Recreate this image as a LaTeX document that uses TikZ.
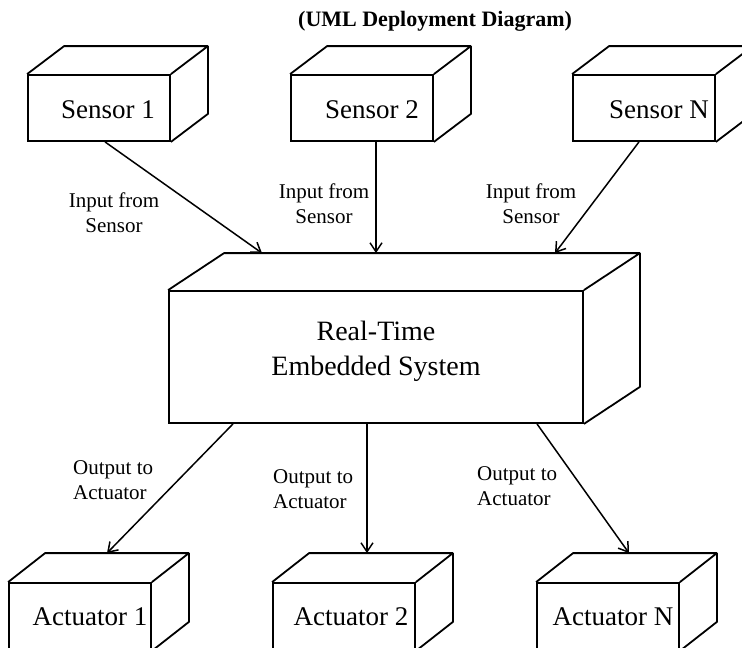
\documentclass[tikz,border=0pt]{standalone}
\usepackage{fontspec}
\setmainfont{Liberation Serif}
\usetikzlibrary{arrows.meta}

\tikzset{
  unit/.style={draw, line width=1.8pt, inner sep=0pt,
    minimum width=142pt, minimum height=66pt},
  boxtext/.style={font=\fontsize{27}{30}\selectfont},
  flow/.style={line width=1.5pt, -{Straight Barb[length=9pt,width=12pt]}},
  tag/.style={inner sep=0pt, font=\fontsize{21}{25}\selectfont},
  title/.style={inner sep=0pt, font=\fontsize{22}{25}\selectfont\bfseries},
}

% back edges of a deployment node: node, dx, dy
\newcommand{\depthlines}[3]{%
  \draw[line width=1.8pt, line join=round]
    (#1.north west) -- ++(#2,#3) -- ([shift={(#2,#3)}]#1.north east)
    -- ([shift={(#2,#3)}]#1.south east) -- (#1.south east)
    (#1.north east) -- ++(#2,#3);
  \coordinate (#1-top) at ([shift={(#2,#3)}]#1.north);
}

\begin{document}
\begin{tikzpicture}[x=1pt, y=-1pt]
  \useasboundingbox (0,0) rectangle (742,648);
  \clip (0,0) rectangle (742,648);

  \node[title, anchor=west] (title) at (298,21) {(UML Deployment Diagram)};

  % sensors
  \node[unit, label={[boxtext, xshift=9pt, yshift=-2pt]center:Sensor 1}] (s1) at (99,108) {};
  \node[unit, label={[boxtext, xshift=10pt, yshift=-2pt]center:Sensor 2}] (s2) at (362,108) {};
  \node[unit, label={[boxtext, xshift=15pt, yshift=-2pt]center:Sensor N}] (sN) at (644,108) {};
  \depthlines{s1}{37}{-28}
  \depthlines{s2}{37}{-28}
  \depthlines{sN}{37}{-28}

  % the system
  \node[unit, minimum width=414pt, minimum height=132pt,
    label={[boxtext, font=\fontsize{28}{35}\selectfont, align=center, yshift=6pt]center:{Real-Time\\Embedded System}}]
    (core) at (376,357) {};
  \depthlines{core}{56}{-37}

  % actuators
  \node[unit, minimum height=67pt, label={[boxtext, xshift=10pt]center:Actuator 1}] (a1) at (80,616.5) {};
  \node[unit, minimum height=67pt, label={[boxtext, xshift=7pt]center:Actuator 2}] (a2) at (344,616.5) {};
  \node[unit, minimum height=67pt, label={[boxtext, xshift=5pt]center:Actuator N}] (aN) at (608,616.5) {};
  \depthlines{a1}{37}{-29}
  \depthlines{a2}{37}{-29}
  \depthlines{aN}{37}{-29}

  % inputs
  \draw[flow] ([xshift=6pt]s1.south) -- ([xshift=-170pt]core-top);
  \draw[flow] ([xshift=14pt]s2.south) -- ([xshift=-56pt]core-top);
  \draw[flow] ([xshift=-5pt]sN.south) -- ([xshift=123pt]core-top);
  \node[tag, align=center] (in1) at (114,213) {Input from\\Sensor};
  \node[tag, align=center] (in2) at (324,204) {Input from\\Sensor};
  \node[tag, align=center] (inN) at (531,204) {Input from\\Sensor};

  % outputs
  \draw[flow] ([xshift=-143pt]core.south) -- ([xshift=-10pt]a1-top);
  \draw[flow] ([xshift=-9pt]core.south) -- ([xshift=-14pt]a2-top);
  \draw[flow] ([xshift=161pt]core.south) -- ([xshift=-16pt]aN-top);
  \node[tag, align=left, anchor=west] (out1) at (73,480) {Output to\\Actuator};
  \node[tag, align=left, anchor=west] (out2) at (273,489) {Output to\\Actuator};
  \node[tag, align=left, anchor=west] (outN) at (477,486) {Output to\\Actuator};
\end{tikzpicture}
\end{document}
